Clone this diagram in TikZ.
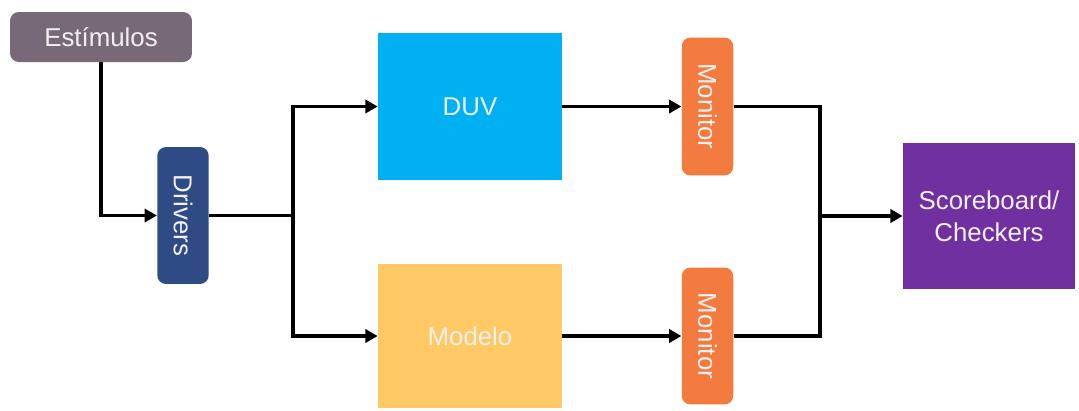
\documentclass[tikz,border=0pt]{standalone}
\usepackage{fontspec}
\setmainfont{Liberation Sans}
\usetikzlibrary{arrows.meta}
\definecolor{estcol}{HTML}{786979}
\definecolor{drvcol}{HTML}{2F4B85}
\definecolor{duvcol}{HTML}{00B0F0}
\definecolor{modcol}{HTML}{FFCA66}
\definecolor{moncol}{HTML}{F47B3F}
\definecolor{sbcol}{HTML}{7030A0}
\begin{document}
\begin{tikzpicture}[x=0.02cm, y=-0.02cm,
  every node/.style={font=\fontsize{14.7}{18}\selectfont, text=white!94!black},
  blk/.style={minimum width=3.68cm,minimum height=2.92cm,align=center,inner sep=0pt},
  tall/.style={rounded corners=5pt,minimum width=1.03cm,inner sep=0pt},
  ln/.style={line width=2pt,black},
  arr/.style={ln,-{Triangle[length=7pt,width=7.5pt]}}]
\useasboundingbox (0,0) rectangle (1079,410);
\node[fill=estcol,rounded corners=5pt,minimum width=3.64cm,minimum height=1.0cm] (est) at (101,37) {Estímulos};
\node[tall,fill=drvcol,minimum height=2.74cm] (drv) at (183,215.5) {\rotatebox{-90}{Drivers}};
\node[blk,fill=duvcol,minimum height=2.94cm] (duv) at (470,106.5) {DUV};
\node[blk,fill=modcol,minimum height=2.90cm] (mod) at (470,336) {Modelo};
\node[tall,fill=moncol,minimum height=2.76cm] (mon1) at (707.5,106.5) {\rotatebox{-90}{Monitor}};
\node[tall,fill=moncol,minimum height=2.74cm] (mon2) at (707.5,336) {\rotatebox{-90}{Monitor}};
\node[fill=sbcol,minimum width=3.44cm,minimum height=2.92cm,align=center] (sb) at (989,216) {Scoreboard/\\Checkers};
% fan out from the drivers
\coordinate (sp) at (293,215.5);
\draw[arr] (est.south) |- (drv.west);
\draw[ln] (drv.east) -- (sp);
\draw[arr] (sp) |- (duv.west);
\draw[arr] (sp) |- (mod.west);
\draw[arr] (duv.east) -- (mon1.west);
\draw[arr] (mod.east) -- (mon2.west);
% join both monitors into the scoreboard
\coordinate (jn) at (820,216);
\draw[ln] (mon1.east) -| (jn);
\draw[ln] (mon2.east) -| (jn);
\draw[arr] (jn) -- (sb.west);
\end{tikzpicture}
\end{document}
